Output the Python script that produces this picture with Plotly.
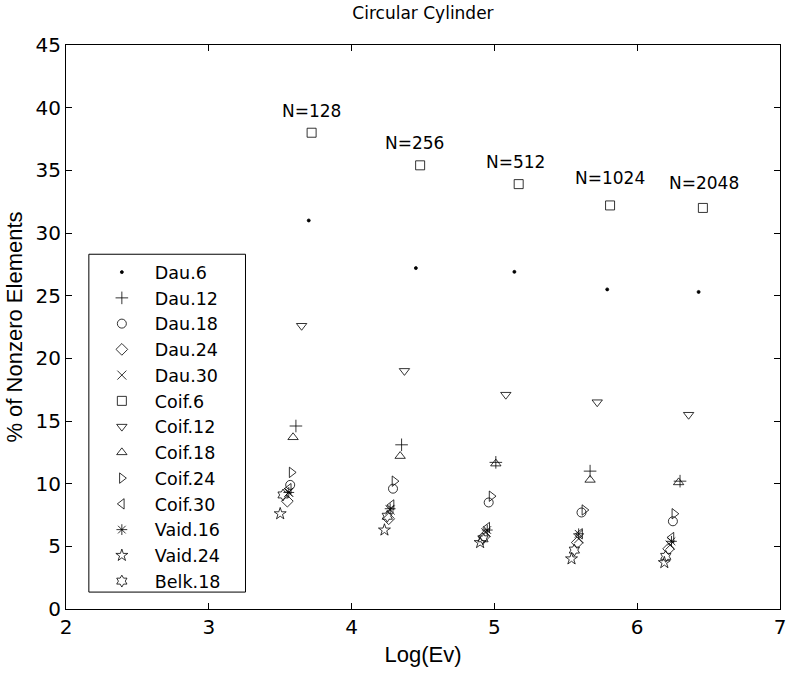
import plotly.graph_objects as go

series_names = ["Dau.6", "Dau.12", "Dau.18", "Dau.24", "Dau.30", "Coif.6", "Coif.12",
                "Coif.18", "Coif.24", "Coif.30", "Vaid.16", "Vaid.24", "Belk.18"]
symbols = ["circle", "cross-thin-open", "circle-open", "diamond-open", "x-thin-open",
           "square-open", "triangle-down-open", "triangle-up-open", "triangle-right-open",
           "triangle-left-open", "asterisk-open", "star-open", "hexagram-open"]

# log(Ev) per N = 128, 256, 512, 1024, 2048
dau6_x = [3.70, 4.45, 5.14, 5.79, 6.43]
dau6_y = [31.0, 27.2, 26.9, 25.5, 25.3]
dau12_x = [3.61, 4.35, 5.01, 5.67, 6.30]
dau12_y = [14.6, 13.1, 11.7, 11.0, 10.2]
dau18_x = [3.57, 4.29, 4.96, 5.61, 6.25]
dau18_y = [9.9, 9.6, 8.5, 7.7, 7.0]
dau24_x = [3.55, 4.26, 4.93, 5.58, 6.22]
dau24_y = [8.6, 7.2, 5.8, 5.3, 4.8]
dau30_x = [3.56, 4.27, 4.94, 5.59, 6.23]
dau30_y = [9.3, 7.9, 6.1, 5.6, 5.1]
coif6_x = [3.72, 4.48, 5.17, 5.81, 6.46]
coif6_y = [38.0, 35.4, 33.9, 32.2, 32.0]
coif12_x = [3.65, 4.37, 5.08, 5.72, 6.36]
coif12_y = [22.6, 19.0, 17.1, 16.5, 15.5]
coif18_x = [3.59, 4.34, 5.01, 5.67, 6.29]
coif18_y = [13.7, 12.2, 11.6, 10.3, 10.1]
coif24_x = [3.58, 4.30, 4.98, 5.63, 6.26]
coif24_y = [10.9, 10.2, 9.0, 7.9, 7.6]
coif30_x = [3.56, 4.28, 4.95, 5.60, 6.24]
coif30_y = [9.6, 8.3, 6.5, 6.0, 5.7]
vaid16_x = [3.56, 4.27, 4.95, 5.59, 6.24]
vaid16_y = [9.3, 8.0, 6.3, 6.0, 5.4]
vaid24_x = [3.50, 4.23, 4.90, 5.54, 6.19]
vaid24_y = [7.6, 6.3, 5.3, 4.0, 3.7]
belk18_x = [3.52, 4.25, 4.92, 5.56, 6.20]
belk18_y = [9.1, 7.4, 5.6, 4.7, 4.2]

xs = [dau6_x, dau12_x, dau18_x, dau24_x, dau30_x, coif6_x, coif12_x, coif18_x,
      coif24_x, coif30_x, vaid16_x, vaid24_x, belk18_x]
ys = [dau6_y, dau12_y, dau18_y, dau24_y, dau30_y, coif6_y, coif12_y, coif18_y,
      coif24_y, coif30_y, vaid16_y, vaid24_y, belk18_y]

n_labels = ["N=128", "N=256", "N=512", "N=1024", "N=2048"]
n_label_x = [3.72, 4.44, 5.15, 5.81, 6.47]
n_label_y = [39.7, 37.2, 35.7, 34.4, 34.0]

fig = go.Figure()
for name, sym, x, y in zip(series_names, symbols, xs, ys):
    size = 3 if sym == "circle" else 9
    fig.add_trace(go.Scatter(
        x=x, y=y, mode="markers", name=name,
        marker=dict(symbol=sym, size=size, color="black",
                    line=dict(color="black", width=0.8)),
    ))

wide = "DejaVu Sans, Verdana, sans-serif"
for t, x, y in zip(n_labels, n_label_x, n_label_y):
    fig.add_annotation(x=x, y=y, text=t, showarrow=False,
                       font=dict(family=wide, size=17, color="black"))

# legend frame (MATLAB-style box, wider than the entries)
fig.add_shape(type="rect", xref="paper", yref="paper",
              x0=0.032, x1=0.2514, y0=0.03, y1=0.629,
              line=dict(color="black", width=1), fillcolor="rgba(0,0,0,0)", layer="above")

font = "Liberation Sans, Arial, sans-serif"
fig.update_layout(
    width=798, height=674,
    margin=dict(l=66, r=12, t=45, b=59),
    paper_bgcolor="white", plot_bgcolor="white",
    font=dict(family=font, size=18, color="black"),
    title=dict(text="Circular Cylinder", x=0.5, xref="paper", xanchor="center",
               y=1 - 13 / 674, yref="container", yanchor="middle",
               font=dict(family=wide, size=17)),
    showlegend=True,
    legend=dict(x=0.032, y=0.629, xanchor="left", yanchor="top",
                borderwidth=0, bgcolor="rgba(0,0,0,0)",
                font=dict(family=wide, size=17.5), tracegroupgap=0, itemwidth=56),
    xaxis=dict(range=[2, 7], dtick=1, showgrid=False, zeroline=False,
               showline=True, linecolor="black", linewidth=1, mirror="ticks",
               ticks="inside", ticklen=6, tickcolor="black",
               title=dict(text="Log(Ev)", standoff=8),
               tickfont=dict(family=wide, size=20)),
    yaxis=dict(range=[0, 45], dtick=5, showgrid=False, zeroline=False,
               showline=True, linecolor="black", linewidth=1, mirror="ticks",
               ticks="inside", ticklen=6, tickcolor="black",
               title=dict(text="% of Nonzero Elements", standoff=6),
               tickfont=dict(family=wide, size=20)),
)

fig.write_html("out.html")
